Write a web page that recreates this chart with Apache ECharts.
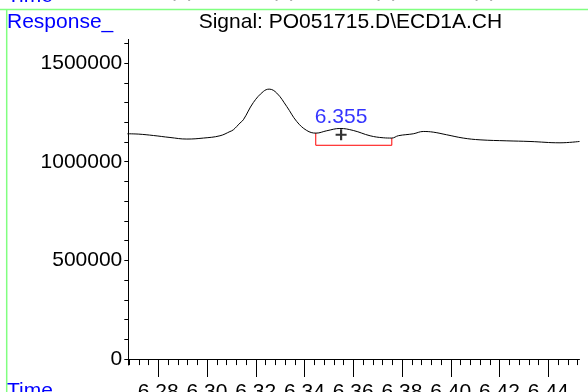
<!DOCTYPE html>
<html>
<head>
<meta charset="utf-8">
<script src="https://cdn.jsdelivr.net/npm/echarts@6/dist/echarts.min.js"></script>
<style>
  html, body { margin: 0; padding: 0; background: #fff; }
  #chart { width: 588px; height: 392px; }
</style>
</head>
<body>
<div id="chart"></div>
<script>
// Chromatogram trace (retention time in min, detector response)
const times = [6.2673, 6.2720, 6.2780, 6.2848, 6.2917, 6.2985, 6.3053, 6.3094, 6.3108, 6.3135,
  6.3149, 6.3190, 6.3231, 6.3255, 6.3286, 6.3327, 6.3368, 6.3409, 6.3447, 6.3491,
  6.3545, 6.3600, 6.3669, 6.3723, 6.3758, 6.3785, 6.3846, 6.3887, 6.3928, 6.3983,
  6.4051, 6.4120, 6.4230, 6.4325, 6.4448, 6.4528];
const response = [1141700, 1140000, 1133000, 1123000, 1115000, 1120000, 1131600, 1153000, 1162000, 1196000,
  1212700, 1300000, 1356000, 1368000, 1348000, 1280000, 1204000, 1158500, 1145000, 1157000,
  1168600, 1158500, 1131600, 1121500, 1120000, 1132000, 1141700, 1153400, 1150000, 1136700,
  1120000, 1111000, 1106000, 1102700, 1096000, 1102700];

// Integration baseline of the labelled peak
const baselineTimes = [6.3446, 6.3446, 6.3758, 6.3758];
const baselineValues = [1145000, 1083500, 1083500, 1120000];

// Peak apex marker and its retention-time label
const peakTime = 6.355;
const peakMarkValue = 1136700;
const peakLabel = '6.355';

// Axis ticks and labels
const xMajorTicks = [6.28, 6.30, 6.32, 6.34, 6.36, 6.38, 6.40, 6.42, 6.44];
const xMinorTicks = [6.268, 6.272, 6.276, 6.28, 6.284, 6.288, 6.292, 6.296, 6.30, 6.304, 6.308, 6.312,
  6.316, 6.32, 6.324, 6.328, 6.332, 6.336, 6.34, 6.344, 6.348, 6.352, 6.356, 6.36, 6.364, 6.368,
  6.372, 6.376, 6.38, 6.384, 6.388, 6.392, 6.396, 6.40, 6.404, 6.408, 6.412, 6.416, 6.42, 6.424,
  6.428, 6.432, 6.436, 6.44, 6.444, 6.448, 6.452];
const yLabelTicks = [0, 500000, 1000000, 1500000];
const yTicks = [0, 100000, 200000, 300000, 400000, 500000, 600000, 700000, 800000, 900000, 1000000,
  1100000, 1200000, 1300000, 1400000, 1500000, 1600000];

const xMin = 6.2677, xMax = 6.4528;
const yMin = -30000, yMax = 1620000;

const FONT = '"Liberation Sans", Arial, sans-serif';
const BLUE = '#0000ff';
const GREEN = '#80ff80';

const chart = echarts.init(document.getElementById('chart'), null, { renderer: 'canvas' });

chart.setOption({
  animation: false,
  backgroundColor: '#ffffff',
  grid: { left: 128.3, right: 8.5, top: 39.4, bottom: 27, containLabel: false, outerBoundsMode: 'none' },
  xAxis: [
    {
      type: 'value', min: xMin, max: xMax, position: 'bottom',
      axisLine: { show: true, lineStyle: { color: '#000', width: 1 } },
      axisTick: { show: true, customValues: xMinorTicks, length: 6, lineStyle: { color: '#000' } },
      axisLabel: { show: false },
      splitLine: { show: false }
    },
    {
      type: 'value', min: xMin, max: xMax, position: 'bottom',
      axisLine: { show: false },
      axisTick: { show: true, customValues: xMajorTicks, length: 12, lineStyle: { color: '#000' } },
      axisLabel: {
        show: true, customValues: xMajorTicks, margin: 17,
        fontFamily: FONT, fontSize: 21, color: '#000',
        formatter: v => v.toFixed(2)
      },
      splitLine: { show: false }
    }
  ],
  yAxis: {
    type: 'value', min: yMin, max: yMax,
    axisLine: { show: true, lineStyle: { color: '#000', width: 1 } },
    axisTick: { show: true, customValues: yTicks, length: 4, lineStyle: { color: '#000' } },
    axisLabel: {
      show: true, customValues: yLabelTicks, margin: 6,
      fontFamily: FONT, fontSize: 21, color: '#000',
      formatter: v => String(v)
    },
    splitLine: { show: false }
  },
  series: [
    {
      type: 'line',
      data: times.map((t, i) => [t, response[i]]),
      smooth: 0.4,
      showSymbol: false,
      lineStyle: { color: '#000', width: 1 },
      z: 3
    },
    {
      type: 'line',
      data: baselineTimes.map((t, i) => [t, baselineValues[i]]),
      showSymbol: false,
      lineStyle: { color: '#ff0000', width: 1 },
      z: 2
    },
    {
      type: 'scatter',
      data: [[peakTime, peakMarkValue]],
      symbol: 'path://M4,0H6V4H10V6H6V10H4V6H0V4H4Z',
      symbolSize: 11,
      itemStyle: { color: '#000' },
      label: {
        show: true, position: 'top', distance: 2,
        formatter: peakLabel,
        fontFamily: FONT, fontSize: 21, color: BLUE
      },
      z: 4
    }
  ],
  graphic: [
    // panel frame lines
    { type: 'line', shape: { x1: 0, y1: 9.5, x2: 588, y2: 9.5 }, style: { stroke: GREEN, lineWidth: 1.5 } },
    { type: 'line', shape: { x1: 6.7, y1: 9.5, x2: 6.7, y2: 392 }, style: { stroke: GREEN, lineWidth: 1.5 } },
    // axis captions
    { type: 'text', left: 7, top: -14, style: { text: 'Time', fill: BLUE, font: '21px ' + FONT } },
    { type: 'text', left: 7, top: 12, style: { text: 'Response_', fill: BLUE, font: '21px ' + FONT } },
    { type: 'text', left: 7, top: 381, style: { text: 'Time', fill: BLUE, font: '21px ' + FONT } },
    { type: 'text', left: 198.7, top: 12, style: { text: 'Signal: PO051715.D\\ECD1A.CH', fill: '#000', font: '21px ' + FONT } },
    // remains of the panel above
    { type: 'text', left: 169, top: -19, style: { text: '(  )', fill: '#aaa', font: '21px ' + FONT } },
    { type: 'text', left: 271, top: -19, style: { text: '(  )', fill: '#aaa', font: '21px ' + FONT } },
    { type: 'text', left: 373, top: -19, style: { text: '(  )', fill: '#aaa', font: '21px ' + FONT } },
    { type: 'text', left: 471, top: -19, style: { text: '(  )', fill: '#aaa', font: '21px ' + FONT } }
  ]
});
</script>
</body>
</html>
